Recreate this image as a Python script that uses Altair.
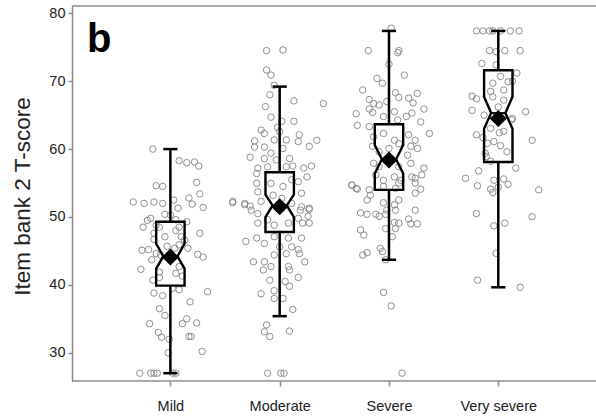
import json
import altair as alt
import pandas as pd

# ---------------- data ----------------
categories = ["Mild", "Moderate", "Severe", "Very severe"]

whisker_low = [27.0, 35.4, 43.7, 39.65]
q1 = [39.9, 47.8, 54.0, 58.1]
median = [44.2, 51.7, 58.5, 65.3]
q3 = [49.3, 56.6, 63.65, 71.6]
whisker_high = [60.0, 69.2, 77.4, 77.4]
notch_lo = [42.4, 50.0, 56.4, 63.0]
notch_hi = [46.1, 53.3, 60.6, 67.7]
mean = [44.1, 51.5, 58.4, 64.5]

mild_y = [60.0, 58.3, 58.0, 58.1, 57.5, 55.1, 54.6, 54.5, 53.4, 52.2, 52.0, 52.2, 52.0, 52.5,
          51.3, 52.8, 51.9, 51.4, 50.4, 50.3, 49.8, 49.5, 48.5, 48.8, 48.5, 49.6, 49.3, 48.5,
          47.6, 47.6, 47.1, 48.0, 47.1, 46.6, 46.7, 45.7, 45.4, 45.9, 45.4, 45.1, 45.2, 44.6,
          44.4, 43.7, 44.5, 44.1, 42.3, 42.7, 41.9, 41.7, 41.3, 40.7, 41.1, 38.8, 38.4, 39.5,
          39.3, 39.0, 37.5, 36.5, 35.5, 35.0, 34.3, 34.4, 34.3, 33.0, 32.3, 32.0, 32.4, 32.4,
          30.0, 30.2, 27.0, 27.0, 27.0, 27.0, 27.0, 27.0]
mild_jitter = [-0.16, 0.08, 0.15, 0.22, 0.26, 0.24, -0.13, -0.07, 0.27, -0.34, -0.24, -0.15, -0.07, 0.03,
               0.07, 0.17, 0.20, 0.30, -0.05, 0.00, -0.18, -0.21, -0.25, -0.13, -0.10, 0.05, 0.15, 0.08,
               0.27, -0.15, -0.05, 0.05, 0.10, 0.13, -0.15, -0.03, 0.04, 0.08, 0.16, -0.26, -0.20, -0.13,
               -0.09, -0.17, 0.25, 0.30, -0.27, 0.08, -0.10, 0.05, 0.11, -0.16, -0.10, -0.15, -0.07, 0.02,
               0.08, 0.34, 0.18, -0.10, -0.05, 0.15, 0.11, 0.24, -0.19, -0.11, -0.08, -0.01, 0.17, 0.19,
               -0.02, 0.29, -0.28, -0.18, -0.15, -0.12, 0.02, 0.05]

moderate_y = [74.5, 74.6, 71.65, 70.9, 69.4, 68.0, 67.1, 66.7, 66.25, 64.7, 64.1, 64.1, 62.8, 62.3,
              63.2, 62.6, 62.1, 61.3, 60.4, 61.1, 61.2, 60.3, 60.3, 61.35, 60.1, 61.35, 58.8, 58.6,
              59.4, 58.4, 58.6, 57.2, 56.4, 57.4, 57.4, 57.5, 57.2, 57.5, 55.9, 54.96, 53.7, 54.96,
              54.5, 55.5, 55.2, 53.5, 53.2, 52.75, 52.3, 52.0, 51.6, 52.3, 52.0, 51.5, 51.3,
              52.1, 51.8, 51.0, 50.5, 51.0, 50.1, 51.1, 49.1, 49.1, 49.1, 49.6, 48.8, 49.1, 49.8,
              46.4, 46.9, 46.1, 47.1, 46.9, 46.9, 45.6, 45.6, 45.2, 44.6, 44.6, 43.4, 43.4, 44.4,
              43.4, 42.2, 42.7, 42.7, 42.2, 41.1, 40.7, 40.5, 39.8, 38.7, 39.15, 38.0, 38.0, 36.4,
              34.1, 33.1, 32.4, 33.2, 27.0, 27.0, 27.0]
moderate_jitter = [-0.12, 0.03, -0.12, -0.08, -0.05, -0.09, 0.13, 0.40, -0.13, -0.08, 0.02, 0.13, -0.17, -0.14,
                   -0.02, 0.00, 0.18, 0.34, 0.27, 0.17, -0.23, -0.23, -0.14, -0.05, 0.03, 0.06, -0.27, -0.14,
                   -0.08, -0.03, 0.09, -0.20, -0.21, -0.11, 0.06, 0.12, 0.22, 0.29, 0.25, -0.21, -0.20, -0.08,
                   0.03, 0.11, 0.17, 0.20, -0.06, 0.02, -0.43, -0.32, -0.27, -0.17, 0.11, 0.20, 0.27,
                   -0.43, -0.32, -0.26, -0.20, 0.19, 0.26, 0.27, 0.21, 0.27, -0.20, -0.11, -0.05, 0.08, 0.17,
                   -0.31, -0.21, -0.14, -0.05, 0.08, 0.20, 0.00, 0.11, 0.17, 0.18, 0.06, -0.24, -0.14, -0.05,
                   0.23, -0.15, -0.08, 0.08, 0.09, 0.17, -0.09, 0.05, 0.09, -0.17, -0.05, 0.03, -0.05, 0.12,
                   -0.12, -0.14, -0.09, 0.09, -0.11, 0.01, 0.04]

severe_y = [77.8, 74.5, 74.2, 74.5, 72.5, 70.9, 70.4, 69.7, 68.7, 68.3, 68.2, 67.5, 67.3, 66.7,
            66.5, 67.0, 67.6, 66.8, 65.9, 65.4, 65.5, 64.8, 65.9, 65.3, 65.2, 63.5, 63.3, 64.8,
            64.3, 64.0, 62.3, 61.8, 62.3, 61.3, 62.1, 61.3, 60.4, 60.1, 60.4, 59.6, 60.1, 60.8,
            59.1, 57.9, 57.4, 57.4, 57.9, 57.2, 56.2, 55.4, 55.9, 55.4, 55.9, 56.2, 55.7, 54.7,
            54.2, 54.5, 54.2, 54.7, 54.1, 54.0, 53.2, 52.5, 55.0, 55.0, 53.5, 54.1, 52.1, 51.8,
            52.5, 51.0, 51.0, 51.0, 50.6, 50.4, 50.4, 50.1, 50.4, 49.2, 49.1, 48.3, 49.7, 49.0,
            49.0, 48.3, 48.1, 47.35, 47.1, 44.4, 44.75, 45.4, 44.9, 43.7, 38.9, 36.9, 27.0]
severe_jitter = [0.02, -0.19, 0.08, 0.09, 0.00, 0.14, -0.11, -0.06, -0.24, 0.06, 0.26, 0.18, -0.18, -0.14,
                 -0.09, -0.02, 0.09, 0.22, -0.18, -0.15, 0.05, 0.16, 0.32, 0.21, -0.30, -0.29, -0.18, -0.05,
                 0.08, 0.29, 0.37, -0.14, -0.05, 0.05, 0.18, 0.24, 0.20, 0.26, -0.15, -0.09, 0.00, 0.09,
                 0.17, -0.14, -0.09, 0.09, 0.20, 0.32, -0.12, -0.05, 0.05, 0.11, 0.21, 0.30, 0.24, -0.34,
                 -0.30, -0.05, 0.06, -0.34, -0.29, -0.18, -0.17, -0.20, 0.09, 0.24, 0.24, 0.29, -0.05, 0.05,
                 0.09, -0.02, 0.06, 0.24, -0.26, -0.20, -0.12, -0.09, -0.03, 0.05, 0.09, 0.06, 0.18, 0.20,
                 0.26, -0.03, -0.26, -0.23, 0.03, -0.24, -0.20, -0.08, -0.06, -0.03, -0.05, 0.02, 0.12]

very_severe_y = [77.4, 77.4, 77.4, 77.4, 77.4, 77.4, 77.4, 74.5, 74.35, 74.5, 74.5, 72.6, 72.4, 71.2,
                 70.7, 69.9, 69.7, 70.0, 68.7, 68.5, 67.7, 67.8, 67.4, 67.2, 65.7, 65.0, 66.2, 65.5,
                 64.5, 64.3, 63.05, 62.4, 62.6, 62.1, 61.7, 61.3, 60.85, 61.1, 60.5, 59.6, 59.4, 58.9,
                 58.2, 57.2, 56.8, 55.7, 55.4, 55.6, 54.6, 54.8, 54.1, 53.6, 54.4, 54.0, 50.5, 50.05,
                 48.7, 49.1, 44.65, 40.7, 39.65]
very_severe_jitter = [-0.20, -0.14, -0.08, -0.05, 0.02, 0.11, 0.19, -0.08, -0.02, 0.06, 0.20, -0.15, -0.02, 0.17,
                      0.02, 0.09, -0.05, 0.13, 0.05, -0.07, -0.05, -0.24, -0.20, 0.05, -0.24, -0.13, 0.00, 0.25,
                      0.13, 0.12, -0.07, 0.01, 0.05, -0.20, -0.14, 0.31, -0.10, -0.04, 0.02, 0.08, -0.12, -0.11,
                      -0.07, 0.16, -0.18, -0.30, -0.04, 0.05, -0.19, 0.09, -0.07, -0.05, 0.00, 0.37, -0.20, 0.31,
                      -0.04, 0.06, -0.02, -0.19, 0.20]

# ---------------- tables built from the arrays ----------------
BOX_HALF = 0.13
NOTCH_HALF = 0.065
CAP_HALF = 0.065
FONT = "Liberation Sans"
W, H = 510, 375          # plot area; frame lines run on to the window edge
FRAME_W = 524
FRAME = "#8c8c8c"

groups = [(mild_y, mild_jitter), (moderate_y, moderate_jitter),
          (severe_y, severe_jitter), (very_severe_y, very_severe_jitter)]
pt_rows = []
for i, (ys, js) in enumerate(groups):
    for y, j in zip(ys, js):
        pt_rows.append({"pos": i + 1 + j, "score": y, "group": categories[i]})
points_df = pd.DataFrame(pt_rows)

stats_rows = []
outline_rows = []
for i, c in enumerate(categories):
    x = i + 1
    stats_rows.append({
        "group": c, "pos": x, "lo": whisker_low[i], "q1": q1[i], "med": median[i],
        "q3": q3[i], "hi": whisker_high[i], "mean": mean[i],
        "cap_l": x - CAP_HALF, "cap_r": x + CAP_HALF,
        "med_l": x - NOTCH_HALF, "med_r": x + NOTCH_HALF,
    })
    verts = [(x - BOX_HALF, q3[i]), (x - BOX_HALF, notch_hi[i]), (x - NOTCH_HALF, median[i]),
             (x - BOX_HALF, notch_lo[i]), (x - BOX_HALF, q1[i]), (x + BOX_HALF, q1[i]),
             (x + BOX_HALF, notch_lo[i]), (x + NOTCH_HALF, median[i]), (x + BOX_HALF, notch_hi[i]),
             (x + BOX_HALF, q3[i]), (x - BOX_HALF, q3[i])]
    for k, (vx, vy) in enumerate(verts):
        outline_rows.append({"group": c, "pos": vx, "score": vy, "k": k})
stats_df = pd.DataFrame(stats_rows)
outline_df = pd.DataFrame(outline_rows)

label_expr = json.dumps(categories) + "[datum.value - 1]"

x_scale = alt.Scale(domain=[0.1, 0.1 + 4.794 * W / 524], nice=False, zero=False)
y_scale = alt.Scale(domain=[25.85, 81.07], nice=False, zero=False)

x_axis = alt.Axis(values=[1, 2, 3, 4], labelExpr=label_expr, title=None, grid=False,
                  domain=False,
                  ticks=True, tickSize=5, tickColor=FRAME, tickWidth=1.5,
                  labelPadding=13, labelFontSize=14.5, labelColor="#222", labelFont=FONT)
y_axis = alt.Axis(values=[30, 40, 50, 60, 70, 80], title="Item bank 2 T-score", grid=False,
                  domain=True, domainColor=FRAME, domainWidth=1.5,
                  ticks=True, tickSize=4, tickColor=FRAME, tickWidth=1.5,
                  labelPadding=3, labelFontSize=14.5, labelColor="#222", labelFont=FONT,
                  titleFont=FONT, titleFontSize=22.5, titleFontWeight="normal", titleColor="#222",
                  titleAngle=-90, titleX=-43, titleY=190, titleAlign="center",
                  titleBaseline="alphabetic")

X = alt.X("pos:Q", scale=x_scale, axis=x_axis)

pts = alt.Chart(points_df).mark_point(
    shape="circle", filled=False, size=42, stroke="#8a8a8a", strokeWidth=1, opacity=0.95
).encode(x=X, y=alt.Y("score:Q", scale=y_scale, axis=y_axis))

whisk_hi = alt.Chart(stats_df).mark_rule(color="black", strokeWidth=2.5).encode(
    x=X, y=alt.Y("hi:Q", scale=y_scale), y2="q3:Q")
whisk_lo = alt.Chart(stats_df).mark_rule(color="black", strokeWidth=2.5).encode(
    x=X, y=alt.Y("q1:Q", scale=y_scale), y2="lo:Q")
cap_hi = alt.Chart(stats_df).mark_rule(color="black", strokeWidth=2.5).encode(
    x=alt.X("cap_l:Q", scale=x_scale), x2="cap_r:Q", y=alt.Y("hi:Q", scale=y_scale))
cap_lo = alt.Chart(stats_df).mark_rule(color="black", strokeWidth=2.5).encode(
    x=alt.X("cap_l:Q", scale=x_scale), x2="cap_r:Q", y=alt.Y("lo:Q", scale=y_scale))

box = alt.Chart(outline_df).mark_line(
    color="black", strokeWidth=2.4, strokeJoin="miter", strokeCap="square"
).encode(x=alt.X("pos:Q", scale=x_scale), y=alt.Y("score:Q", scale=y_scale),
         detail="group:N", order="k:Q")

med_line = alt.Chart(stats_df).mark_rule(color="black", strokeWidth=2).encode(
    x=alt.X("med_l:Q", scale=x_scale), x2="med_r:Q", y=alt.Y("med:Q", scale=y_scale))

means = alt.Chart(stats_df).mark_point(
    shape="diamond", filled=True, color="black", size=290, opacity=1
).encode(x=alt.X("pos:Q", scale=x_scale), y=alt.Y("mean:Q", scale=y_scale))

# top and bottom edges of the frame, running to the window edge
top_frame = alt.Chart(pd.DataFrame({"f": [0]})).mark_rule(
    color=FRAME, strokeWidth=1.5
).encode(x=alt.value(0), x2=alt.value(FRAME_W), y=alt.value(0))
bottom_frame = alt.Chart(pd.DataFrame({"f": [0]})).mark_rule(
    color=FRAME, strokeWidth=1.5
).encode(x=alt.value(0), x2=alt.value(FRAME_W), y=alt.value(H))

panel_label = alt.Chart(pd.DataFrame({"t": ["b"]})).mark_text(
    font=FONT, fontSize=40, fontWeight="bold", color="black", align="left",
    baseline="alphabetic"
).encode(text="t:N", x=alt.value(15), y=alt.value(46))

chart = alt.layer(
    pts, whisk_hi, whisk_lo, cap_hi, cap_lo, box, med_line, means,
    top_frame, bottom_frame, panel_label
).properties(
    width=W, height=H,
    autosize=alt.AutoSizeParams(type="none"),
    padding={"left": 72, "top": 6, "right": 14, "bottom": 38},
    background="white",
).configure_view(stroke="transparent", strokeWidth=0)

chart.save("out.html", embed_options={"renderer": "svg", "actions": False})
